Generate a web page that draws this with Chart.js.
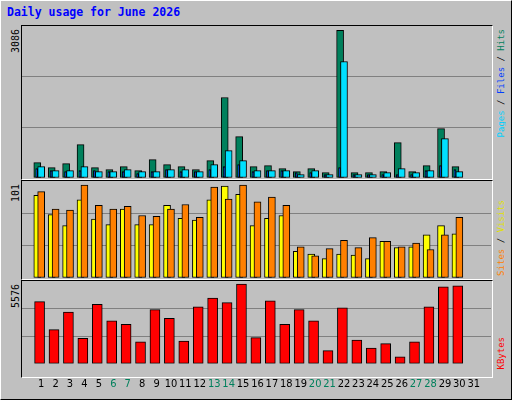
<!DOCTYPE html>
<html>
<head>
<meta charset="utf-8">
<script src="https://cdn.jsdelivr.net/npm/chart.js@4"></script>
<style>
body { margin: 0; }
#wrap { position: relative; width: 510px; height: 398px; background: #c0c0c0; border: 1px solid; border-color: #fff #000 #000 #fff; overflow: hidden; }
.panel { position: absolute; left: 20px; width: 470px; border: 1px solid; border-color: #000 #fff #fff #000; }
canvas { position: absolute; }
.vt { position: absolute; writing-mode: vertical-rl; transform: rotate(180deg); font: 9px "DejaVu Sans Mono", monospace; white-space: nowrap; }
#title { position: absolute; left: 6px; top: 4px; font: bold 11.5px "DejaVu Sans Mono", monospace; color: #0000ff; }
</style>
</head>
<body>
<div id="wrap">
  <div id="title">Daily usage for June 2026</div>
  <div class="panel" style="top:24px;height:153px"></div>
  <div class="panel" style="top:179px;height:98px"></div>
  <div class="panel" style="top:279px;height:96px"></div>
  <canvas id="c1" style="left:21px;top:25px"></canvas>
  <canvas id="c2" style="left:21px;top:180px"></canvas>
  <canvas id="c3" style="left:21px;top:280px"></canvas>
  <div class="vt" style="left:9px;top:28px;font-size:10px">3086</div>
  <div class="vt" style="left:9px;top:183px;font-size:10px">101</div>
  <div class="vt" style="left:9px;top:283px;font-size:10px">5576</div>
  <div class="vt" style="left:495px;top:28px"><span style="color:#00d0ff">Pages</span> / <span style="color:#0040ff">Files</span> / <span style="color:#00805c">Hits</span></div>
  <div class="vt" style="left:495px;top:199px"><span style="color:#ff8000">Sites</span> / <span style="color:#e0e000">Visits</span></div>
  <div class="vt" style="left:495px;top:336px;color:#ff0000">KBytes</div>
</div>
<script>
var days = [];
for (var i = 1; i <= 31; i++) days.push(i);
var weekend = [6, 7, 13, 14, 20, 21, 27, 28];

var hits = [321,216,300,698,216,175,237,154,384,279,237,175,363,1683,866,237,258,195,133,195,112,3086,112,112,133,740,133,258,1033,237];
var files = [237,154,154,237,133,133,175,133,133,175,175,133,279,573,363,154,154,154,70,154,70,2437,70,70,112,195,112,154,824,133];
var pages = [195,154,133,154,154,133,133,91,133,175,133,133,175,237,279,133,154,154,112,112,70,216,70,70,70,70,70,154,258,175];
var visits = [90,69,57,85,64,58,75,58,58,79,65,63,85,100,91,57,65,68,29,26,21,26,25,21,40,33,34,47,57,48];
var sites = [94,75,74,101,79,75,78,68,67,75,80,66,99,86,101,83,88,79,34,24,32,41,33,44,40,34,38,31,47,66];
var kbytes = [4351,2390,3615,1777,4167,3003,2757,1532,3799,3186,1593,3983,4596,4290,5576,1838,4412,2757,3799,3003,919,3922,1654,1103,1409,490,1532,3983,5392,5454];

function pts(arr, off) {
    return arr.map(function(v, i) { return { x: days[i] + off, y: v }; });
}

function bar(data, color, width, order) {
    return {
        type: 'bar',
        data: data,
        backgroundColor: color,
        borderColor: '#000',
        borderWidth: 1,
        borderSkipped: false,
        barThickness: width,
        grouped: false,
        order: order
    };
}

function makeChart(id, w, h, datasets, ymax, showX) {
    var cv = document.getElementById(id);
    cv.width = w; cv.height = h;
    cv.style.width = w + 'px'; cv.style.height = h + 'px';
    return new Chart(cv.getContext('2d'), {
        type: 'bar',
        data: { datasets: datasets },
        options: {
            responsive: false,
            animation: false,
            devicePixelRatio: 1,
            layout: { padding: 0 },
            plugins: { legend: { display: false }, tooltip: { enabled: false } },
            scales: {
                x: {
                    type: 'linear',
                    min: 0.195,
                    max: 31.67,
                    display: showX,
                    grid: { display: false },
                    border: { display: false },
                    afterBuildTicks: function(axis) {
                        axis.ticks = days.map(function(d) { return { value: d }; });
                    },
                    ticks: {
                        autoSkip: false,
                        maxRotation: 0,
                        padding: 6,
                        font: { family: 'DejaVu Sans Condensed', size: 11 },
                        color: function(ctx) {
                            return weekend.indexOf(ctx.tick.value) >= 0 ? '#00805c' : '#000';
                        },
                        callback: function(v) { return v; }
                    }
                },
                y: {
                    min: 0,
                    max: ymax,
                    display: true,
                    afterFit: function(axis) { axis.width = 0; },
                    afterBuildTicks: function(axis) {
                        axis.ticks = [0, 1, 2, 3].map(function(k) { return { value: ymax * k / 3 }; });
                    },
                    ticks: { display: false },
                    border: { display: false },
                    grid: {
                        drawTicks: false,
                        color: function(ctx) {
                            return (ctx.index === 1 || ctx.index === 2) ? '#808080' : 'rgba(0,0,0,0)';
                        }
                    }
                }
            }
        }
    });
}

makeChart('c1', 469, 152, [
    bar(pts(hits, -0.27), '#00805c', 7, 3),
    bar(pts(pages, -0.31), '#0040ff', 2, 2),
    bar(pts(files, 0), '#00e0ff', 7, 1)
], 3086 * 1.03, false);

makeChart('c2', 469, 97, [
    bar(pts(visits, -0.27), '#ffff00', 7, 2),
    bar(pts(sites, 0), '#ff8000', 7, 1)
], 101 * 1.045, false);

makeChart('c3', 469, 116, [
    bar(pts(kbytes, -0.11), '#ff0000', 10, 1)
], 5576 * 1.04, true);
</script>
</body>
</html>
